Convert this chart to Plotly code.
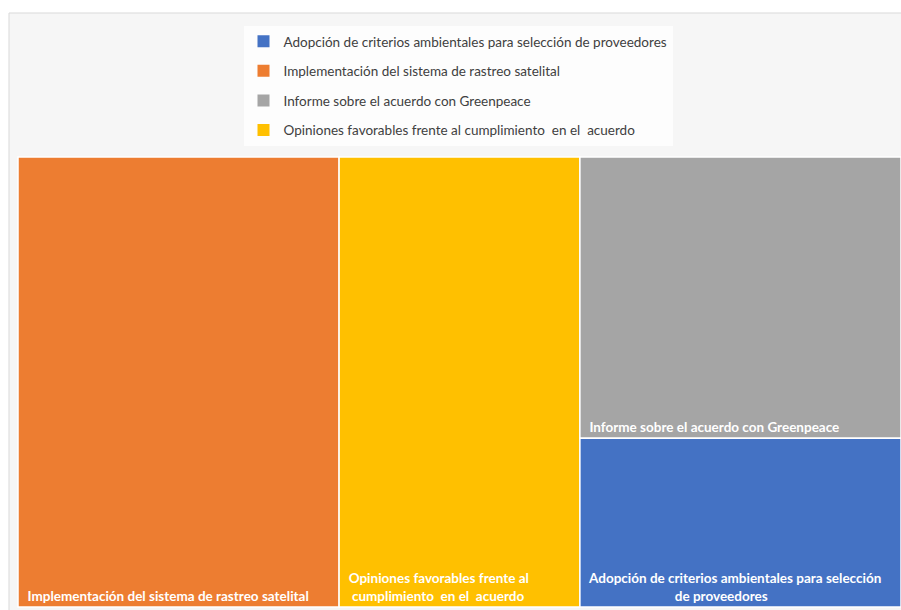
import plotly.graph_objects as go

labels = [
    "Implementación del sistema de rastreo satelital",
    "Opiniones favorables frente al cumplimiento  en el  acuerdo",
    "Informe sobre el acuerdo con Greenpeace",
    "Adopción de criterios ambientales para selección de proveedores",
]
tile_text = [
    "  Implementación del sistema de rastreo satelital",
    "  Opiniones favorables frente al<br>   cumplimiento  en el  acuerdo",
    "  Informe sobre el acuerdo con Greenpeace",
    "  Adopción de criterios ambientales para selección<br>                            de proveedores",
]
values = [8, 6, 5, 3]
colors = ["#ED7D31", "#FFC000", "#A5A5A5", "#4472C4"]

legend_order = [3, 0, 2, 1]

W, H = 901, 610
FONT = "Lato, 'Open Sans', sans-serif"

fig = go.Figure()
fig.add_trace(go.Treemap(
    labels=labels,
    parents=[""] * len(labels),
    values=values,
    text=["<b>" + t + "</b>" for t in tile_text],
    textinfo="text",
    textposition="bottom left",
    textfont=dict(family=FONT, size=13.5, color="white"),
    marker=dict(colors=colors, line=dict(color="white", width=1.5), pad=dict(t=0, l=0, r=0, b=0)),
    tiling=dict(pad=0, squarifyratio=1),
    pathbar=dict(visible=False),
    sort=True,
    hoverinfo="label+value",
    domain=dict(x=[18 / W, 1], y=[3 / H, 1 - 157 / H]),
))

for i in legend_order:
    fig.add_trace(go.Scatter(
        x=[None], y=[None], mode="markers",
        marker=dict(symbol="square", size=10, color=colors[i]),
        name=labels[i], legendgroup=str(i), showlegend=True,
    ))

fig.add_shape(type="rect", xref="paper", yref="paper",
              x0=9 / W, x1=1.01, y0=-0.01, y1=1 - 13 / H,
              fillcolor="#f6f6f6", line=dict(color="#d9d9d9", width=1), layer="below")

fig.update_layout(
    width=W, height=H,
    margin=dict(l=0, r=0, t=0, b=0),
    paper_bgcolor="white",
    plot_bgcolor="rgba(0,0,0,0)",
    xaxis=dict(visible=False),
    yaxis=dict(visible=False),
    legend=dict(
        x=458 / W, xanchor="center", y=1 - 26 / H, yanchor="top",
        bgcolor="#fdfdfd", borderwidth=0,
        font=dict(family=FONT, size=13.5, color="#404040"),
        tracegroupgap=9, itemsizing="constant",
    ),
    font=dict(family=FONT),
)

fig.write_html(
    "out.html",
    config={"displayModeBar": False},
    post_script="document.body.style.margin='0';document.body.style.overflow='hidden';",
)
